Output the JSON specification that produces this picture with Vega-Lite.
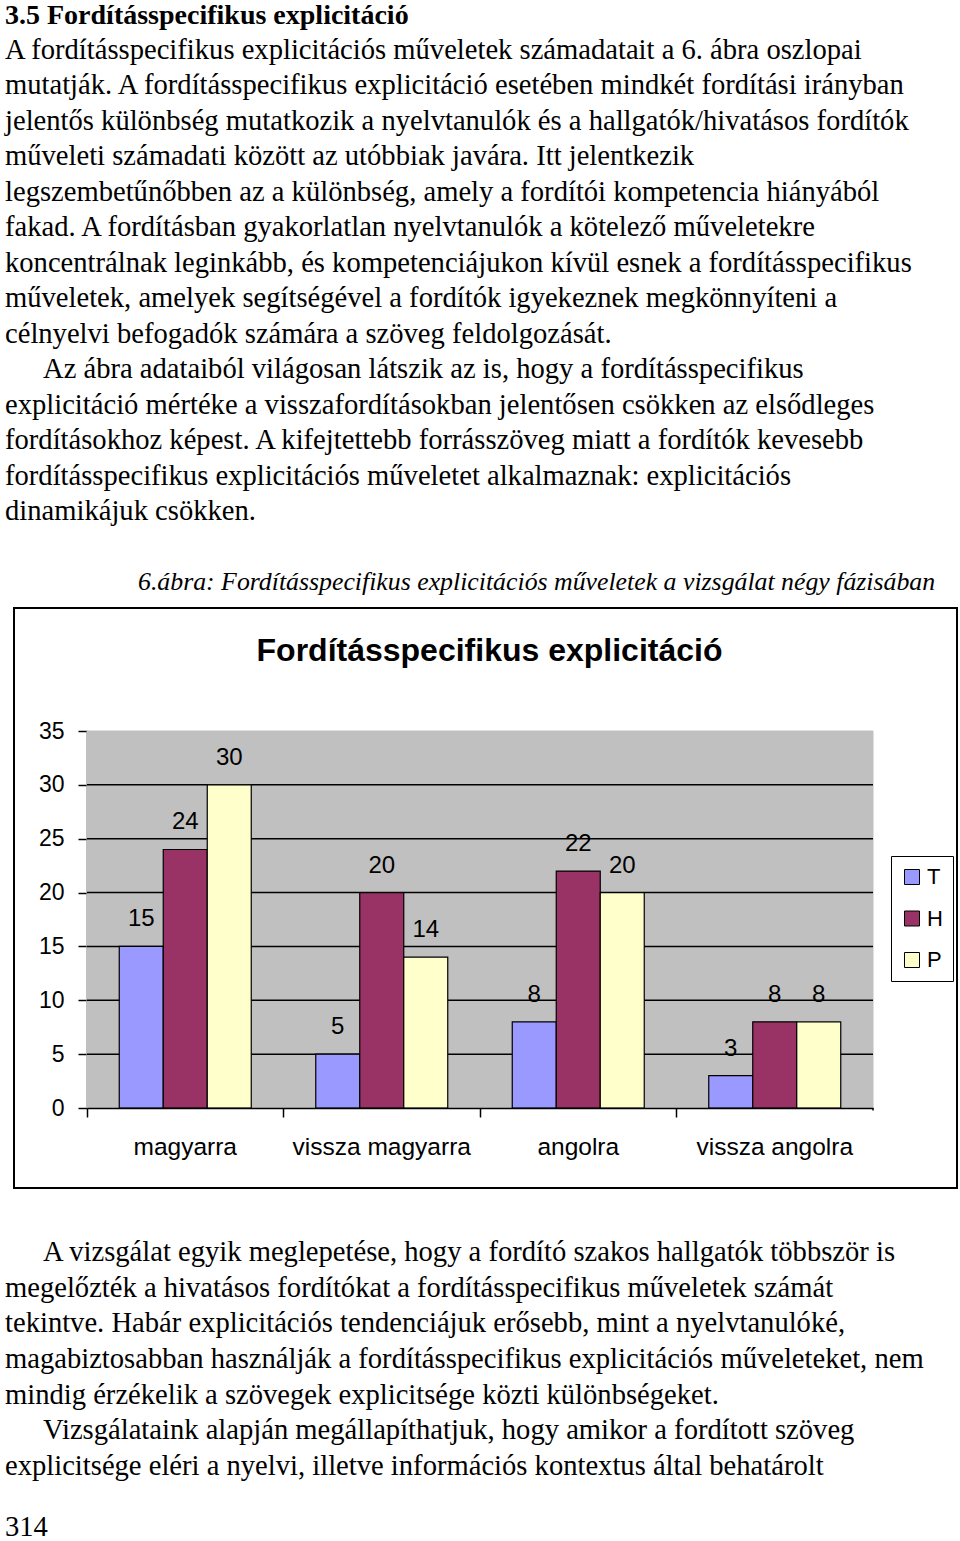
{
  "$schema": "https://vega.github.io/schema/vega-lite/v6.json",
  "padding": 0,
  "spacing": 0,
  "background": "white",
  "config": {
    "view": {"stroke": null},
    "font": "Liberation Sans",
    "text": {"color": "black"}
  },
  "vconcat": [
    {
      "width": 960,
      "height": 607,
      "data": {"values": [
        {"line": 0, "indent": 0, "kind": "heading", "text": "3.5 Fordításspecifikus explicitáció"},
        {"line": 1, "indent": 0, "kind": "body", "text": "A fordításspecifikus explicitációs műveletek számadatait a 6. ábra oszlopai"},
        {"line": 2, "indent": 0, "kind": "body", "text": "mutatják. A fordításspecifikus explicitáció esetében mindkét fordítási irányban"},
        {"line": 3, "indent": 0, "kind": "body", "text": "jelentős különbség mutatkozik a nyelvtanulók és a hallgatók/hivatásos fordítók"},
        {"line": 4, "indent": 0, "kind": "body", "text": "műveleti számadati között az utóbbiak javára. Itt jelentkezik"},
        {"line": 5, "indent": 0, "kind": "body", "text": "legszembetűnőbben az a különbség, amely a fordítói kompetencia hiányából"},
        {"line": 6, "indent": 0, "kind": "body", "text": "fakad. A fordításban gyakorlatlan nyelvtanulók a kötelező műveletekre"},
        {"line": 7, "indent": 0, "kind": "body", "text": "koncentrálnak leginkább, és kompetenciájukon kívül esnek a fordításspecifikus"},
        {"line": 8, "indent": 0, "kind": "body", "text": "műveletek, amelyek segítségével a fordítók igyekeznek megkönnyíteni a"},
        {"line": 9, "indent": 0, "kind": "body", "text": "célnyelvi befogadók számára a szöveg feldolgozását."},
        {"line": 10, "indent": 1, "kind": "body", "text": "Az ábra adataiból világosan látszik az is, hogy a fordításspecifikus"},
        {"line": 11, "indent": 0, "kind": "body", "text": "explicitáció mértéke a visszafordításokban jelentősen csökken az elsődleges"},
        {"line": 12, "indent": 0, "kind": "body", "text": "fordításokhoz képest. A kifejtettebb forrásszöveg miatt a fordítók kevesebb"},
        {"line": 13, "indent": 0, "kind": "body", "text": "fordításspecifikus explicitációs műveletet alkalmaznak: explicitációs"},
        {"line": 14, "indent": 0, "kind": "body", "text": "dinamikájuk csökken."},
        {"line": 16, "indent": 3.5, "kind": "caption", "text": "6.ábra: Fordításspecifikus explicitációs műveletek a vizsgálat négy fázisában"}
      ]},
      "encoding": {
        "x": {"field": "indent", "type": "quantitative", "scale": {"domain": [0, 1], "range": [5, 43], "zero": false, "nice": false}, "axis": null},
        "y": {"field": "line", "type": "quantitative", "scale": {"domain": [0, 16], "range": [14, 582], "nice": false, "zero": false}, "axis": null},
        "text": {"field": "text", "type": "nominal"}
      },
      "layer": [
        {"transform": [{"filter": "datum.kind == 'body'"}], "mark": {"type": "text", "align": "left", "baseline": "middle", "font": "Liberation Serif", "fontSize": 28.6}},
        {"transform": [{"filter": "datum.kind == 'heading'"}], "mark": {"type": "text", "align": "left", "baseline": "middle", "dy": 2, "font": "Liberation Serif", "fontSize": 28, "fontWeight": "bold"}},
        {"transform": [{"filter": "datum.kind == 'caption'"}], "mark": {"type": "text", "align": "left", "baseline": "middle", "font": "Liberation Serif", "fontSize": 25.8, "fontStyle": "italic"}}
      ]
    },
    {
      "spacing": 0,
      "hconcat": [
        {
          "width": 13,
          "height": 10,
          "data": {"values": [{"blank": ""}]},
          "mark": {"type": "text"},
          "encoding": {"text": {"field": "blank", "type": "nominal"}}
        },
        {
          "width": 943,
          "height": 580,
          "view": {"stroke": "black", "strokeWidth": 2, "fill": "white"},
          "title": {"text": "Fordításspecifikus explicitáció", "font": "Liberation Sans", "fontSize": 32, "fontWeight": "bold", "color": "black", "anchor": "middle", "frame": "group", "offset": -60, "dx": 4},
          "layer": [
            {
              "data": {"values": [
                {"category": "magyarra"}, {"category": "vissza magyarra"}, {"category": "angolra"}, {"category": "vissza angolra"}
              ]},
              "mark": {"type": "rect", "fill": "#c0c0c0", "stroke": "#c0c0c0", "strokeWidth": 1},
              "encoding": {
                "x": {"field": "category", "type": "nominal", "title": null,
                  "scale": {"type": "band", "domain": ["magyarra", "vissza magyarra", "angolra", "vissza angolra"], "range": [73, 859], "paddingInner": 0, "paddingOuter": 0},
                  "axis": {"orient": "bottom", "offset": -80, "bandPosition": 0, "domainColor": "black", "domainWidth": 1.5, "tickColor": "black", "tickWidth": 1.5, "tickSize": 9, "labelFontSize": 24.5, "labelColor": "black", "labelFont": "Liberation Sans", "labelPadding": 18, "labelAngle": 0, "grid": false, "title": null}},
                "y": {"datum": 0, "type": "quantitative", "title": null,
                  "scale": {"domain": [0, 35], "range": [500, 123], "nice": false, "zero": true},
                  "axis": {"orient": "left", "offset": -73, "values": [0, 5, 10, 15, 20, 25, 30, 35], "domainColor": "black", "domainWidth": 1.5, "tickColor": "black", "tickWidth": 1.5, "tickSize": 9, "labelFontSize": 23, "labelColor": "black", "labelFont": "Liberation Sans", "labelPadding": 14, "grid": false, "title": null}},
                "y2": {"datum": 35}
              }
            },
            {
              "data": {"values": [{"gridValue": 5}, {"gridValue": 10}, {"gridValue": 15}, {"gridValue": 20}, {"gridValue": 25}, {"gridValue": 30}]},
              "mark": {"type": "rule", "color": "black", "strokeWidth": 1.5},
              "encoding": {
                "y": {"field": "gridValue", "type": "quantitative", "title": null},
                "x": {"datum": "magyarra", "type": "nominal", "bandPosition": 0, "title": null},
                "x2": {"datum": "vissza angolra", "bandPosition": 1}
              }
            },
            {
              "data": {"values": [{"edge": "vissza angolra"}]},
              "mark": {"type": "rule", "color": "black", "strokeWidth": 1.5},
              "encoding": {
                "x": {"field": "edge", "type": "nominal", "bandPosition": 1, "title": null},
                "y": {"datum": 0, "type": "quantitative", "title": null},
                "y2": {"datum": -0.24}
              }
            },
            {
              "data": {"name": "counts", "values": [
                {"category": "magyarra", "series": "T", "value": 15},
                {"category": "magyarra", "series": "H", "value": 24},
                {"category": "magyarra", "series": "P", "value": 30},
                {"category": "vissza magyarra", "series": "T", "value": 5},
                {"category": "vissza magyarra", "series": "H", "value": 20},
                {"category": "vissza magyarra", "series": "P", "value": 14},
                {"category": "angolra", "series": "T", "value": 8},
                {"category": "angolra", "series": "H", "value": 22},
                {"category": "angolra", "series": "P", "value": 20},
                {"category": "vissza angolra", "series": "T", "value": 3},
                {"category": "vissza angolra", "series": "H", "value": 8},
                {"category": "vissza angolra", "series": "P", "value": 8}
              ]},
              "layer": [
                {
                  "mark": {"type": "bar", "stroke": "black", "strokeWidth": 1.2},
                  "encoding": {
                    "x": {"field": "category", "type": "nominal", "title": null},
                    "xOffset": {"field": "series", "type": "nominal", "scale": {"type": "band", "domain": ["T", "H", "P"], "paddingOuter": 0.733, "paddingInner": 0}},
                    "y": {"field": "value", "type": "quantitative", "title": null},
                    "color": {"field": "series", "type": "nominal",
                      "scale": {"domain": ["T", "H", "P"], "range": ["#9999ff", "#993366", "#ffffcc"]},
                      "legend": {"orient": "none", "legendX": 891, "legendY": 856, "title": null, "strokeColor": "black", "fillColor": "white", "padding": 10, "cornerRadius": 0, "symbolType": "square", "symbolSize": 225, "symbolStrokeColor": "black", "symbolStrokeWidth": 1, "labelFontSize": 22, "labelFont": "Liberation Sans", "labelColor": "black", "labelOffset": 4, "rowPadding": 19.5}}
                  }
                },
                {
                  "mark": {"type": "text", "baseline": "middle", "dy": -27, "fontSize": 24, "font": "Liberation Sans", "color": "black"},
                  "encoding": {
                    "x": {"field": "category", "type": "nominal", "title": null},
                    "xOffset": {"field": "series", "type": "nominal"},
                    "y": {"field": "value", "type": "quantitative", "title": null},
                    "text": {"field": "value", "type": "quantitative"}
                  }
                }
              ]
            }
          ]
        }
      ]
    },
    {
      "width": 960,
      "height": 352,
      "data": {"values": [
        {"line": 0, "indent": 1, "text": "A vizsgálat egyik meglepetése, hogy a fordító szakos hallgatók többször is"},
        {"line": 1, "indent": 0, "text": "megelőzték a hivatásos fordítókat a fordításspecifikus műveletek számát"},
        {"line": 2, "indent": 0, "text": "tekintve. Habár explicitációs tendenciájuk erősebb, mint a nyelvtanulóké,"},
        {"line": 3, "indent": 0, "text": "magabiztosabban használják a fordításspecifikus explicitációs műveleteket, nem"},
        {"line": 4, "indent": 0, "text": "mindig érzékelik a szövegek explicitsége közti különbségeket."},
        {"line": 5, "indent": 1, "text": "Vizsgálataink alapján megállapíthatjuk, hogy amikor a fordított szöveg"},
        {"line": 6, "indent": 0, "text": "explicitsége eléri a nyelvi, illetve információs kontextus által behatárolt"},
        {"line": 7.71, "indent": 0, "text": "314"}
      ]},
      "mark": {"type": "text", "align": "left", "baseline": "middle", "font": "Liberation Serif", "fontSize": 28.6},
      "encoding": {
        "x": {"field": "indent", "type": "quantitative", "scale": {"domain": [0, 1], "range": [5, 43], "zero": false, "nice": false}, "axis": null},
        "y": {"field": "line", "type": "quantitative", "scale": {"domain": [0, 6], "range": [63, 277], "nice": false, "zero": false}, "axis": null},
        "text": {"field": "text", "type": "nominal"}
      }
    }
  ]
}
